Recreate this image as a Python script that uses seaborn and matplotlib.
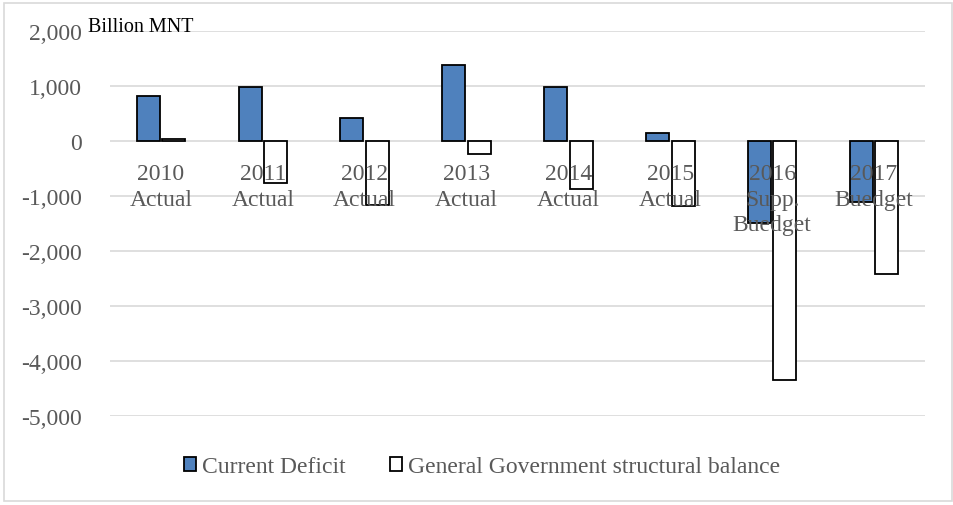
import matplotlib
matplotlib.use("Agg")
import matplotlib.pyplot as plt
import seaborn as sns
import pandas as pd
from matplotlib.patches import Rectangle

categories = ["2010\nActual", "2011\nActual", "2012\nActual", "2013\nActual",
              "2014\nActual", "2015\nActual", "2016\nSupp.\nBuedget", "2017\nBuedget"]
current_deficit = [810, 975, 423, 1380, 975, 150, -1485, -1115]
structural_balance = [35, -770, -1160, -245, -880, -1175, -4350, -2410]
series_names = ["Current Deficit", "General Government structural balance"]
y_ticks = [2000, 1000, 0, -1000, -2000, -3000, -4000, -5000]

df = pd.DataFrame({
    "category": categories * 2,
    "series": [series_names[0]] * len(categories) + [series_names[1]] * len(categories),
    "value": current_deficit + structural_balance,
})

sns.set_style("white")
plt.rcParams["font.family"] = ["Liberation Serif", "DejaVu Serif"]

fig = plt.figure(figsize=(9.54, 5.06), dpi=100)
ax = fig.add_axes([110/954, 1-417/506, (925-110)/954, (417-32)/506])

for v in y_ticks:
    ax.axhline(v, color="#d9d9d9", linewidth=1.2, zorder=0)

sns.barplot(data=df, x="category", y="value", hue="series", order=categories,
            hue_order=series_names,
            palette={series_names[0]: "#4f81bd", series_names[1]: "white"},
            edgecolor="black", linewidth=1.3, width=0.5, gap=0.1, ax=ax,
            saturation=1, errorbar=None, zorder=1)

handles, labels = ax.get_legend_handles_labels()
if ax.get_legend() is not None:
    ax.get_legend().remove()

ax.set_axisbelow(False)
ax.grid(False)
ax.set_ylim(-5000, 2000)
ax.set_yticks(y_ticks)
ax.set_yticklabels([f"{v:,}" for v in y_ticks])
for s in ["top", "right", "left"]:
    ax.spines[s].set_visible(False)
ax.spines["bottom"].set_position(("data", 0))
ax.spines["bottom"].set_color("none")
ax.set_xlabel("")
ax.set_ylabel("")
ax.tick_params(axis="x", length=0, pad=16, labelsize=17, labelcolor="#595959")
ax.tick_params(axis="y", length=0, pad=20, labelsize=17, labelcolor="#595959")
for t in ax.get_xticklabels():
    t.set_linespacing(1.27)

fig.text(88/954, 1-27/506, "Billion MNT", fontsize=14.5, color="black",
         va="center", ha="left")

fig.legend(handles, labels, loc="center", bbox_to_anchor=(482/954, 1-468/506),
           ncol=2, frameon=False, fontsize=17, handlelength=0.5, handleheight=0.5,
           handletextpad=0.25, columnspacing=1.9, labelcolor="#595959")

fig.patches.append(Rectangle((4/954, 4/506), 948/954, 498/506, transform=fig.transFigure,
                             fill=False, edgecolor="#d9d9d9", linewidth=1.2))

fig.savefig("out.png", dpi=100)
